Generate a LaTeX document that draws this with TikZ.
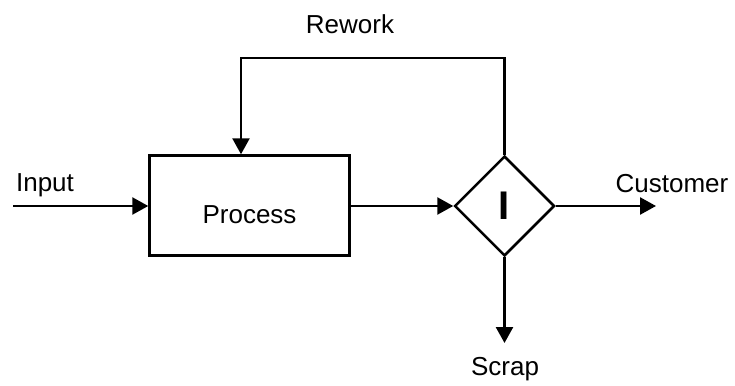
\documentclass[tikz,border=0pt]{standalone}
\usepackage{fontspec}
\setmainfont{Liberation Sans}
\usetikzlibrary{arrows.meta}
\usetikzlibrary{shapes}

\begin{document}
\begin{tikzpicture}[x=1pt,y=-1pt]
\tikzstyle{every node}=[font=\fontsize{26}{30}\selectfont]
\tikzstyle{box}=[rectangle,draw,line width=2.5pt,minimum width=200pt,minimum height=100pt]
\tikzstyle{check}=[diamond,draw,line width=2.5pt,minimum width=100pt,minimum height=100pt,inner sep=0pt]
\tikzstyle{flow}=[line width=2.5pt,-{Triangle[length=16pt,width=17pt]}]
\useasboundingbox (0,0) rectangle (735,385);
\node[box,label={[yshift=-9pt]center:Process}] (process) at (249.5,205.5) {};
\node[check] (inspect) at (504.5,206) {\fontsize{40}{40}\selectfont\textbf{I}};
\coordinate (in) at (13,206);
\coordinate (out) at (656,206);
\coordinate (scrap) at (504.5,343);
\coordinate (up) at (504.5,58);
\coordinate (back) at (241,58);
\node (lin) at (45,185) {Input};
\node (lcust) at (672,184) {Customer};
\node (lscrap) at (505,369) {Scrap};
\node (lrework) at (350,24) {Rework};
\draw[flow] (in) -- (in -| process.west);
\draw[flow] (process.east |- inspect) -- (inspect.west);
\draw[flow] (inspect.east) -- (out);
\draw[flow] (inspect.south) -- (scrap);
\draw[flow] (inspect.north) -- (up) -- (back) -- (back |- process.north);
\end{tikzpicture}
\end{document}
